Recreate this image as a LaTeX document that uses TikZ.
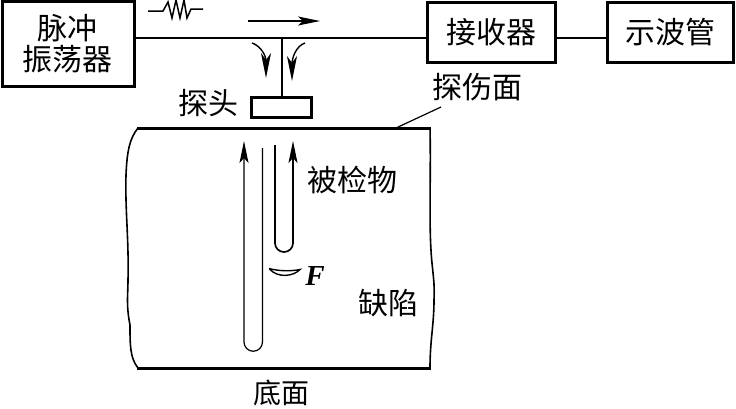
\documentclass[tikz,border=0pt]{standalone}
\usepackage{fontspec}
\newfontfamily\cjk{Noto Sans CJK SC}
\setmainfont{Liberation Serif}
\usetikzlibrary{arrows.meta}
\tikzset{
  x=1pt,y=-1pt,
  boxn/.style={draw,line width=3pt,inner sep=0pt,font=\cjk\fontsize{30}{31}\selectfont,align=center},
  lbl/.style={inner sep=0pt,font=\cjk\fontsize{30}{32}\selectfont},
  thin line/.style={line width=1.2pt},
  sig/.style={line width=1.2pt,-{Stealth[length=22pt,width=9pt,inset=5pt]}},
  curv/.style={line width=1.4pt,-{Stealth[length=25pt,width=10pt,inset=7pt]}},
}
\begin{document}
\begin{tikzpicture}
\useasboundingbox (0,0) rectangle (736,408);
\node[boxn,minimum width=132pt,minimum height=85pt] (pulse) at (68,44) {脉冲\\振荡器};
\node[boxn,minimum width=128pt,minimum height=60pt] (recv) at (491,32) {接收器};
\node[boxn,minimum width=126pt,minimum height=60pt] (scope) at (670,32) {示波管};
\node[draw,line width=3pt,minimum width=60pt,minimum height=20pt,inner sep=0pt] (probe) at (281,107) {};
\coordinate (j) at (282,38);
\draw[thin line] (pulse.east |- j) -- (recv.west |- j);
\draw[thin line] (recv.east |- j) -- (scope.west |- j);
\draw[thin line] (j) -- (j |- probe.north);
\coordinate (a1) at (248,21); \coordinate (a2) at (320,21);
\draw[sig] (a1) -- (a2);
\coordinate (w0) at (148,11);\coordinate (w1) at (203,9);
\draw[line width=1.5pt] (w0) -- (163,11) -- (168,2) -- (172,18) -- (176,0) -- (180,18) -- (184,0) -- (187,18) -- (191,9) -- (w1);
\coordinate (c1) at (252,43);\coordinate (c2) at (266,78);
\coordinate (c3) at (305,43);\coordinate (c4) at (292,81);
\draw[curv] (c1) .. controls (261,46) and (266,56) .. (c2);
\draw[curv] (c3) .. controls (296,46) and (292,58) .. (c4);
\node[lbl] (tan) at (208,103) {探头};
\node[lbl] (face) at (477,87) {探伤面};
\coordinate (fa) at (396,128);\coordinate (fb) at (441,107);
\draw[thin line] (fa) -- (fb);
% specimen
\draw[line width=1.6pt] (138,128) .. controls (130,138) and (127,150) .. (126,175) .. controls (125,210) and (129,240) .. (128,280) .. controls (128,295) and (126,305) .. (130,325) .. controls (130,345) and (130,358) .. (138,368);
\draw[line width=1.6pt] (430,128) .. controls (431,170) and (429,220) .. (431,250) .. controls (432,270) and (435,280) .. (434,300) .. controls (434,325) and (430,340) .. (430,368);
\draw[line width=3pt] (137,128) -- (431,128);
\draw[line width=3pt] (137,368) -- (431,368);
% paths
\coordinate (l1) at (244,141);\coordinate (l2) at (262.5,148);
\draw[sig] (l2) -- (262.5,342) arc[start angle=0,end angle=180,radius=9.25] -- (l1);
\coordinate (r1) at (293,141);\coordinate (r2) at (275,145);
\draw[line width=1.7pt,-{Stealth[length=22pt,width=9pt,inset=5pt]}] (r2) -- (275,243) arc[start angle=180,end angle=0,radius=9] -- (r1);
% flaw
\coordinate (fl1) at (269,268.5);\coordinate (fl2) at (300,269.5);
\draw[line width=1.4pt] (fl1) .. controls (278,271) and (290,271.5) .. (fl2) .. controls (294,276) and (278,279) .. (fl1);
\node[inner sep=0pt,font=\itshape\bfseries\fontsize{29}{29}\selectfont] (F) at (315,276) {F};
\node[lbl] (obj) at (352,180) {被检物};
\node[lbl] (def) at (388,303) {缺陷};
\node[lbl,font=\cjk\fontsize{28}{28}\selectfont] (bot) at (281,393) {底面};
\end{tikzpicture}
\end{document}
